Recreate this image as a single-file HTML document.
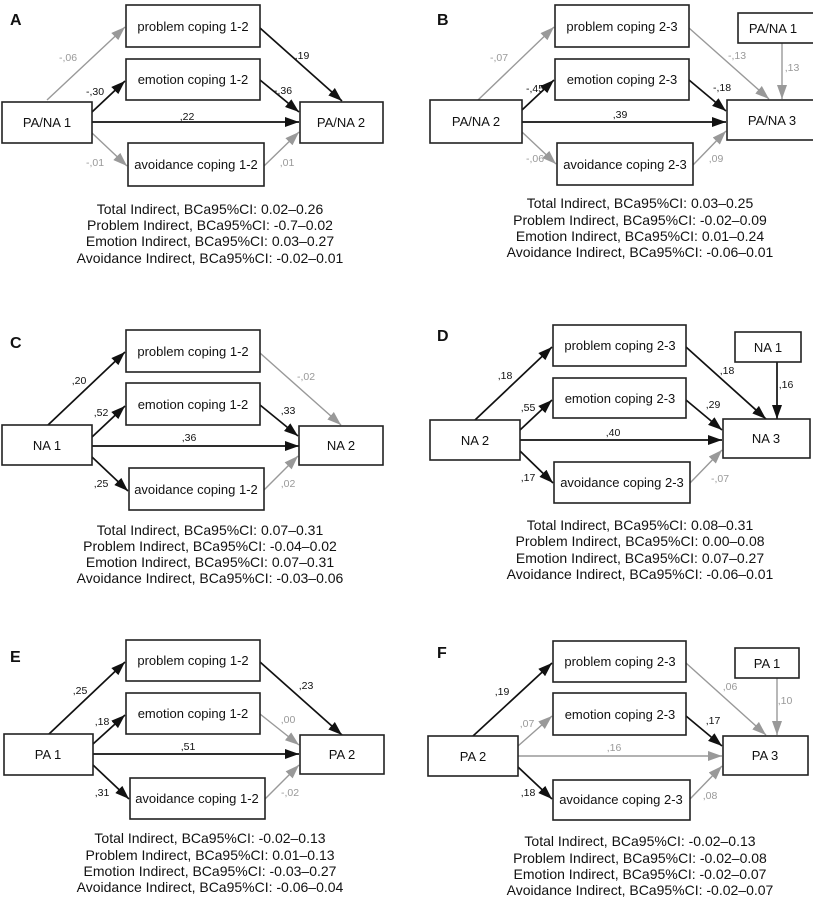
<!DOCTYPE html>
<html><head><meta charset="utf-8"><style>
html,body{margin:0;padding:0;background:#fff;}
svg{display:block;font-family:"Liberation Sans",Arial,sans-serif;}
.b{fill:#fff;stroke:#222;stroke-width:1.6}
.n{font-size:13px;fill:#111;text-anchor:middle}
.k{stroke:#111;stroke-width:1.7;fill:none}
.g{stroke:#999;stroke-width:1.4;fill:none}
.ka{marker-end:url(#mk)}
.ga{marker-end:url(#mg)}
.lk{font-size:10.5px;fill:#111;text-anchor:middle}
.lg{font-size:10.5px;fill:#999;text-anchor:middle}
.t{font-size:14px;fill:#111;text-anchor:middle}
.L{font-size:16px;font-weight:bold;fill:#111}
</style></head><body>
<svg width="813" height="898" viewBox="0 0 813 898" xmlns="http://www.w3.org/2000/svg">
<defs>
<marker id="mk" viewBox="0 0 10 10" refX="10" refY="5" markerWidth="14" markerHeight="10" markerUnits="userSpaceOnUse" orient="auto" preserveAspectRatio="none"><path d="M0,0L10,5L0,10z" fill="#111"/></marker>
<marker id="mg" viewBox="0 0 10 10" refX="10" refY="5" markerWidth="14" markerHeight="10" markerUnits="userSpaceOnUse" orient="auto" preserveAspectRatio="none"><path d="M0,0L10,5L0,10z" fill="#999"/></marker>
</defs>

<!-- Panel A -->
<g>
<text class="L" x="10" y="25">A</text>
<line class="g ga" x1="47" y1="100" x2="125" y2="27"/>
<line class="k ka" x1="92" y1="112" x2="125" y2="81"/>
<line class="k ka" x1="92" y1="122" x2="299" y2="122"/>
<line class="g ga" x1="92" y1="133" x2="127" y2="166"/>
<line class="k ka" x1="260" y1="28" x2="342" y2="101"/>
<line class="k ka" x1="260" y1="80" x2="299" y2="112"/>
<line class="g ga" x1="264" y1="166" x2="299" y2="132"/>
<rect class="b" x="126" y="5" width="134" height="42"/><text class="n" x="193" y="31">problem coping 1-2</text>
<rect class="b" x="126" y="59" width="134" height="41"/><text class="n" x="193" y="84">emotion coping 1-2</text>
<rect class="b" x="2" y="102" width="90" height="41"/><text class="n" x="47" y="127">PA/NA 1</text>
<rect class="b" x="300" y="102" width="83" height="41"/><text class="n" x="341" y="127">PA/NA 2</text>
<rect class="b" x="128" y="143" width="136" height="43"/><text class="n" x="196" y="169">avoidance coping 1-2</text>
<text class="lg" x="68" y="61">-,06</text><text class="lk" x="302" y="59">,19</text>
<text class="lk" x="95" y="95">-,30</text><text class="lk" x="283" y="94">-,36</text>
<text class="lk" x="187" y="120">,22</text>
<text class="lg" x="95" y="166">-,01</text><text class="lg" x="287" y="166">,01</text>
<text class="t" x="210" y="214">Total Indirect, BCa95%CI: 0.02–0.26</text>
<text class="t" x="210" y="230">Problem Indirect, BCa95%CI: -0.7–0.02</text>
<text class="t" x="210" y="246">Emotion Indirect, BCa95%CI: 0.03–0.27</text>
<text class="t" x="210" y="263">Avoidance Indirect, BCa95%CI: -0.02–0.01</text>
</g>

<!-- Panel B -->
<g>
<text class="L" x="437" y="25">B</text>
<line class="g ga" x1="478" y1="100" x2="554" y2="27"/>
<line class="k ka" x1="522" y1="110" x2="554" y2="80"/>
<line class="k ka" x1="522" y1="122" x2="726" y2="122"/>
<line class="g ga" x1="522" y1="132" x2="556" y2="164"/>
<line class="g ga" x1="689" y1="28" x2="769" y2="99"/>
<line class="k ka" x1="689" y1="80" x2="726" y2="111"/>
<line class="g ga" x1="693" y1="165" x2="726" y2="131"/>
<line class="g ga" x1="782" y1="43" x2="782" y2="99"/>
<rect class="b" x="555" y="5" width="134" height="42"/><text class="n" x="622" y="31">problem coping 2-3</text>
<rect class="b" x="738" y="13" width="76" height="30"/><text class="n" x="773" y="33">PA/NA 1</text>
<rect class="b" x="555" y="59" width="134" height="41"/><text class="n" x="622" y="84">emotion coping 2-3</text>
<rect class="b" x="430" y="100" width="92" height="43"/><text class="n" x="476" y="126">PA/NA 2</text>
<rect class="b" x="727" y="100" width="88" height="40"/><text class="n" x="772" y="125">PA/NA 3</text>
<rect class="b" x="557" y="143" width="136" height="42"/><text class="n" x="625" y="169">avoidance coping 2-3</text>
<text class="lg" x="499" y="61">-,07</text><text class="lg" x="737" y="59">-,13</text>
<text class="lk" x="535" y="92">-,45</text><text class="lk" x="722" y="91">-,18</text>
<text class="lg" x="792" y="71">,13</text>
<text class="lk" x="620" y="118">,39</text>
<text class="lg" x="535" y="162">-,06</text><text class="lg" x="716" y="162">,09</text>
<text class="t" x="640" y="208">Total Indirect, BCa95%CI: 0.03–0.25</text>
<text class="t" x="640" y="225">Problem Indirect, BCa95%CI: -0.02–0.09</text>
<text class="t" x="640" y="241">Emotion Indirect, BCa95%CI: 0.01–0.24</text>
<text class="t" x="640" y="257">Avoidance Indirect, BCa95%CI: -0.06–0.01</text>
</g>

<!-- Panel C -->
<g transform="translate(0,325)">
<text class="L" x="10" y="23">C</text>
<line class="k ka" x1="48" y1="100" x2="125" y2="27"/>
<line class="k ka" x1="92" y1="112" x2="125" y2="81"/>
<line class="k ka" x1="92" y1="121" x2="299" y2="121"/>
<line class="k ka" x1="92" y1="132" x2="128" y2="166"/>
<line class="g ga" x1="260" y1="28" x2="341" y2="100"/>
<line class="k ka" x1="260" y1="80" x2="298" y2="111"/>
<line class="g ga" x1="264" y1="165" x2="298" y2="131"/>
<rect class="b" x="126" y="5" width="134" height="42"/><text class="n" x="193" y="31">problem coping 1-2</text>
<rect class="b" x="126" y="58" width="134" height="42"/><text class="n" x="193" y="84">emotion coping 1-2</text>
<rect class="b" x="2" y="100" width="90" height="40"/><text class="n" x="47" y="125">NA 1</text>
<rect class="b" x="299" y="101" width="84" height="39"/><text class="n" x="341" y="125">NA 2</text>
<rect class="b" x="129" y="143" width="135" height="42"/><text class="n" x="196" y="169">avoidance coping 1-2</text>
<text class="lk" x="79" y="59">,20</text><text class="lg" x="306" y="55">-,02</text>
<text class="lk" x="101" y="91">,52</text><text class="lk" x="288" y="89">,33</text>
<text class="lk" x="189" y="116">,36</text>
<text class="lk" x="101" y="162">,25</text><text class="lg" x="288" y="162">,02</text>
</g>
<text class="t" x="210" y="535">Total Indirect, BCa95%CI: 0.07–0.31</text>
<text class="t" x="210" y="551">Problem Indirect, BCa95%CI: -0.04–0.02</text>
<text class="t" x="210" y="567">Emotion Indirect, BCa95%CI: 0.07–0.31</text>
<text class="t" x="210" y="583">Avoidance Indirect, BCa95%CI: -0.03–0.06</text>

<!-- Panel D -->
<g transform="translate(0,320)">
<text class="L" x="437" y="21">D</text>
<line class="k ka" x1="475" y1="100" x2="552" y2="27"/>
<line class="k ka" x1="520" y1="110" x2="552" y2="80"/>
<line class="k ka" x1="520" y1="120" x2="722" y2="120"/>
<line class="k ka" x1="520" y1="131" x2="553" y2="163"/>
<line class="k ka" x1="686" y1="27" x2="766" y2="99"/>
<line class="k ka" x1="686" y1="80" x2="722" y2="110"/>
<line class="g ga" x1="690" y1="163" x2="722" y2="130"/>
<line class="k ka" x1="777" y1="42" x2="777" y2="99"/>
<rect class="b" x="553" y="5" width="133" height="41"/><text class="n" x="620" y="30">problem coping 2-3</text>
<rect class="b" x="735" y="12" width="66" height="30"/><text class="n" x="768" y="32">NA 1</text>
<rect class="b" x="553" y="58" width="133" height="40"/><text class="n" x="620" y="83">emotion coping 2-3</text>
<rect class="b" x="430" y="100" width="90" height="40"/><text class="n" x="475" y="125">NA 2</text>
<rect class="b" x="723" y="99" width="87" height="39"/><text class="n" x="766" y="123">NA 3</text>
<rect class="b" x="554" y="142" width="136" height="41"/><text class="n" x="622" y="167">avoidance coping 2-3</text>
<text class="lk" x="505" y="59">,18</text><text class="lk" x="727" y="54">,18</text>
<text class="lk" x="528" y="91">,55</text><text class="lk" x="713" y="88">,29</text>
<text class="lk" x="786" y="68">,16</text>
<text class="lk" x="613" y="116">,40</text>
<text class="lk" x="528" y="161">,17</text><text class="lg" x="720" y="162">-,07</text>
</g>
<text class="t" x="640" y="530">Total Indirect, BCa95%CI: 0.08–0.31</text>
<text class="t" x="640" y="546">Problem Indirect, BCa95%CI: 0.00–0.08</text>
<text class="t" x="640" y="563">Emotion Indirect, BCa95%CI: 0.07–0.27</text>
<text class="t" x="640" y="579">Avoidance Indirect, BCa95%CI: -0.06–0.01</text>

<!-- Panel E -->
<g transform="translate(0,635)">
<text class="L" x="10" y="27">E</text>
<line class="k ka" x1="49" y1="99" x2="125" y2="27"/>
<line class="k ka" x1="93" y1="109" x2="125" y2="80"/>
<line class="k ka" x1="93" y1="119" x2="299" y2="119"/>
<line class="k ka" x1="93" y1="130" x2="129" y2="164"/>
<line class="k ka" x1="260" y1="27" x2="342" y2="100"/>
<line class="g ga" x1="260" y1="79" x2="299" y2="110"/>
<line class="g ga" x1="265" y1="164" x2="299" y2="130"/>
<rect class="b" x="126" y="5" width="134" height="41"/><text class="n" x="193" y="30">problem coping 1-2</text>
<rect class="b" x="126" y="58" width="134" height="41"/><text class="n" x="193" y="83">emotion coping 1-2</text>
<rect class="b" x="4" y="99" width="89" height="41"/><text class="n" x="48" y="124">PA 1</text>
<rect class="b" x="300" y="100" width="84" height="39"/><text class="n" x="342" y="124">PA 2</text>
<rect class="b" x="130" y="143" width="135" height="41"/><text class="n" x="197" y="168">avoidance coping 1-2</text>
<text class="lk" x="80" y="59">,25</text><text class="lk" x="306" y="54">,23</text>
<text class="lk" x="102" y="90">,18</text><text class="lg" x="288" y="88">,00</text>
<text class="lk" x="188" y="115">,51</text>
<text class="lk" x="102" y="161">,31</text><text class="lg" x="290" y="161">-,02</text>
</g>
<text class="t" x="210" y="843">Total Indirect, BCa95%CI: -0.02–0.13</text>
<text class="t" x="210" y="860">Problem Indirect, BCa95%CI: 0.01–0.13</text>
<text class="t" x="210" y="876">Emotion Indirect, BCa95%CI: -0.03–0.27</text>
<text class="t" x="210" y="892">Avoidance Indirect, BCa95%CI: -0.06–0.04</text>

<!-- Panel F -->
<g transform="translate(0,636)">
<text class="L" x="437" y="22">F</text>
<line class="k ka" x1="473" y1="100" x2="552" y2="27"/>
<line class="g ga" x1="518" y1="110" x2="552" y2="80"/>
<line class="g ga" x1="518" y1="120" x2="722" y2="120"/>
<line class="k ka" x1="518" y1="131" x2="552" y2="163"/>
<line class="g ga" x1="686" y1="27" x2="766" y2="99"/>
<line class="k ka" x1="686" y1="80" x2="722" y2="110"/>
<line class="g ga" x1="690" y1="163" x2="722" y2="130"/>
<line class="g ga" x1="777" y1="42" x2="777" y2="99"/>
<rect class="b" x="553" y="5" width="133" height="41"/><text class="n" x="620" y="30">problem coping 2-3</text>
<rect class="b" x="735" y="12" width="64" height="30"/><text class="n" x="767" y="32">PA 1</text>
<rect class="b" x="553" y="57" width="133" height="42"/><text class="n" x="620" y="83">emotion coping 2-3</text>
<rect class="b" x="428" y="100" width="90" height="40"/><text class="n" x="473" y="125">PA 2</text>
<rect class="b" x="723" y="100" width="85" height="39"/><text class="n" x="765" y="124">PA 3</text>
<rect class="b" x="553" y="144" width="137" height="40"/><text class="n" x="621" y="168">avoidance coping 2-3</text>
<text class="lk" x="502" y="59">,19</text><text class="lg" x="730" y="54">,06</text>
<text class="lg" x="527" y="91">,07</text><text class="lk" x="713" y="88">,17</text>
<text class="lg" x="785" y="68">,10</text>
<text class="lg" x="614" y="115">,16</text>
<text class="lk" x="528" y="160">,18</text><text class="lg" x="710" y="163">,08</text>
</g>
<text class="t" x="640" y="846">Total Indirect, BCa95%CI: -0.02–0.13</text>
<text class="t" x="640" y="863">Problem Indirect, BCa95%CI: -0.02–0.08</text>
<text class="t" x="640" y="879">Emotion Indirect, BCa95%CI: -0.02–0.07</text>
<text class="t" x="640" y="895">Avoidance Indirect, BCa95%CI: -0.02–0.07</text>
</svg>
</body></html>
